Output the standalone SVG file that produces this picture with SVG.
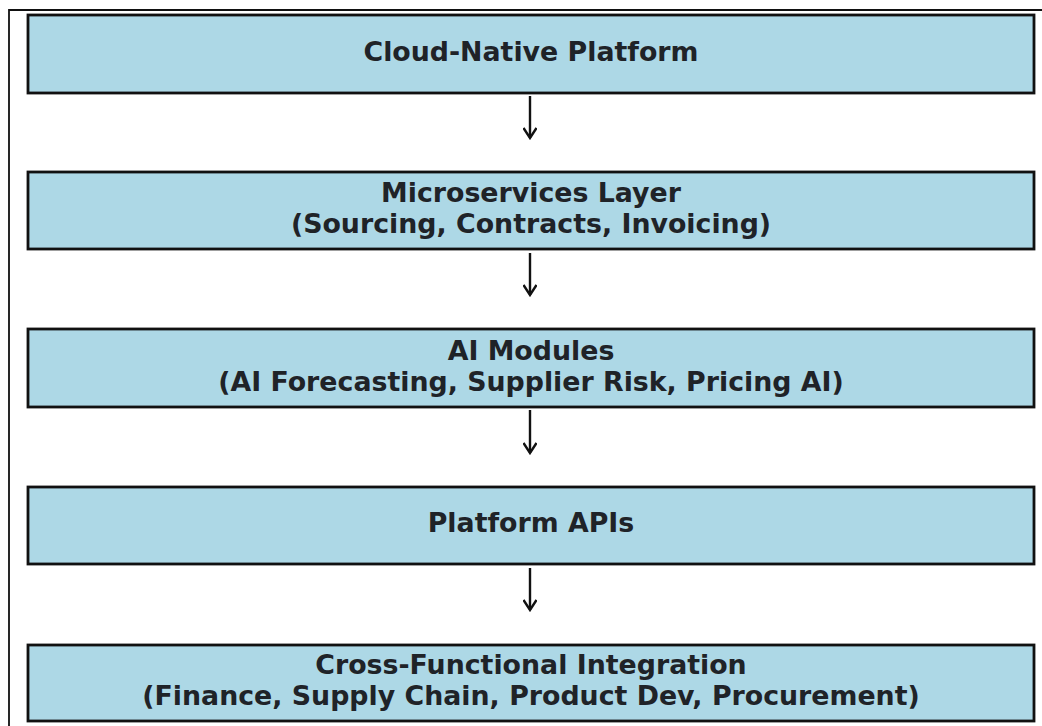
<svg xmlns="http://www.w3.org/2000/svg" width="1042" height="726" viewBox="0 0 1042 726">
  <defs>
    <style>
      .box { fill: #ADD8E6; stroke: #111; stroke-width: 2.8; }
      .lbl { font-family: "DejaVu Sans", "Liberation Sans", sans-serif; font-weight: bold; font-size: 26.8px; fill: #1f2328; text-anchor: middle; }
      .conn { stroke: #111; stroke-width: 2.4; fill: none; }
    </style>
    <marker id="arrow" viewBox="0 0 14 14" refX="12" refY="7" markerWidth="14" markerHeight="14" markerUnits="userSpaceOnUse" orient="auto">
      <path d="M2,0.5 L12,7 L2,13.5" fill="none" stroke="#111" stroke-width="2.4"/>
    </marker>
  </defs>
  <rect x="0" y="0" width="1042" height="726" fill="#ffffff"/>
  <path d="M9,726 V10 H1042" fill="none" stroke="#111" stroke-width="1.8"/>

  <g id="node-cloud">
    <rect class="box" x="28" y="15" width="1006" height="78"/>
    <text class="lbl" x="531" y="61">Cloud-Native Platform</text>
  </g>
  <g id="node-microservices">
    <rect class="box" x="28" y="172" width="1006" height="77"/>
    <text class="lbl" x="531" y="202">Microservices Layer</text>
    <text class="lbl" x="531" y="233">(Sourcing, Contracts, Invoicing)</text>
  </g>
  <g id="node-ai">
    <rect class="box" x="28" y="329" width="1006" height="78"/>
    <text class="lbl" x="531" y="360">AI Modules</text>
    <text class="lbl" x="531" y="391">(AI Forecasting, Supplier Risk, Pricing AI)</text>
  </g>
  <g id="node-apis">
    <rect class="box" x="28" y="487" width="1006" height="77"/>
    <text class="lbl" x="531" y="532">Platform APIs</text>
  </g>
  <g id="node-integration">
    <rect class="box" x="28" y="645" width="1006" height="76"/>
    <text class="lbl" x="531" y="674">Cross-Functional Integration</text>
    <text class="lbl" x="531" y="705">(Finance, Supply Chain, Product Dev, Procurement)</text>
  </g>

  <g id="connectors">
    <line class="conn" x1="530" y1="96" x2="530" y2="138" marker-end="url(#arrow)"/>
    <line class="conn" x1="530" y1="253" x2="530" y2="295" marker-end="url(#arrow)"/>
    <line class="conn" x1="530" y1="410" x2="530" y2="453" marker-end="url(#arrow)"/>
    <line class="conn" x1="530" y1="568" x2="530" y2="610" marker-end="url(#arrow)"/>
  </g>
</svg>
